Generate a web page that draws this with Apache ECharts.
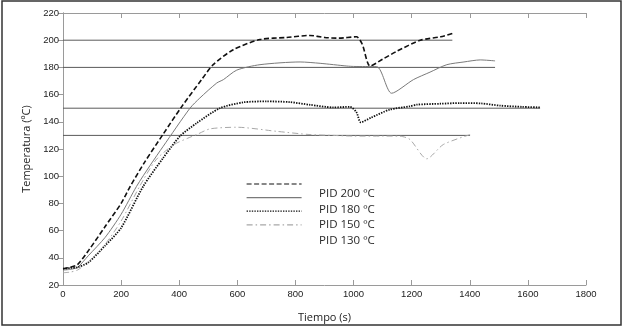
<!DOCTYPE html>
<html>
<head>
<meta charset="utf-8">
<script src="https://cdn.jsdelivr.net/npm/echarts@6/dist/echarts.min.js"></script>
<style>
  html, body { margin: 0; padding: 0; background: #fff; }
  #chart { width: 623px; height: 328px; }
</style>
</head>
<body>
<div id="chart"></div>
<script>
// 数据
var names = ['PID 200 ºC', 'PID 180 ºC', 'PID 150 ºC', 'PID 130 ºC'];

var t200 = [0, 25, 50, 90, 145, 200, 230, 280, 345, 408, 477, 517, 586, 678, 770, 850, 900, 950, 1010, 1030, 1057, 1100, 1150, 1230, 1300, 1340];
var T200 = [32, 33, 35, 46, 63, 80, 92, 110, 131, 151, 171, 182, 193, 200.5, 202, 203.5, 202, 201.5, 202.5, 197, 181, 186, 192, 200, 202.5, 205];

var t180 = [0, 25, 50, 87, 145, 200, 253, 300, 345, 437, 471, 529, 552, 598, 678, 816, 885, 977, 1000, 1080, 1131, 1206, 1263, 1321, 1380, 1436, 1487];
var T180 = [31, 31.5, 33, 41.5, 55, 72, 92.5, 108, 122, 150, 157.5, 168.5, 171, 178, 182, 184, 183, 181, 180.7, 180.5, 161, 171, 176.5, 182, 184, 185.5, 184.8];

var t150 = [0, 25, 50, 87, 145, 200, 276, 345, 403, 460, 540, 620, 700, 780, 850, 930, 988, 1010, 1025, 1060, 1125, 1194, 1217, 1300, 1366, 1440, 1504, 1580, 1642];
var T150 = [32, 32.5, 33, 36.5, 49, 62, 92.5, 113.5, 129.5, 139, 150, 154.3, 155, 154.5, 152.5, 150.6, 151, 147, 139.6, 143, 149, 151.4, 152.6, 153.3, 153.8, 153.5, 151.9, 151, 150.6];

var t130 = [0, 25, 50, 87, 145, 200, 265, 320, 380, 430, 460, 506, 598, 735, 850, 930, 1000, 1100, 1160, 1194, 1252, 1309, 1401];
var T130 = [29, 29.5, 31, 37, 50, 67, 93, 112, 123, 128, 130.6, 134.8, 136, 133, 130.6, 130, 129.5, 129.5, 129.4, 127, 112.8, 123.3, 130.6];

// 设定值参考线
var setpoints = [200, 180, 150, 130];
var setEnds = [1340, 1487, 1642, 1401];

var xTicks = { min: 0, max: 1800, interval: 200 };
var yTicks = { min: 20, max: 220, interval: 20 };

function zip(a, b) {
    var out = [];
    for (var i = 0; i < a.length; i++) {
        out.push([a[i], b[i]]);
    }
    return out;
}

var myChart = echarts.init(document.getElementById('chart'));

var axisGray = '#9a9a9a';
var labelFont = 'Liberation Sans';
var textFont = 'Open Sans';

var styles = [
    { color: '#111', width: 1.6, type: [5, 2.5] },
    { color: '#7a7a7a', width: 1, type: 'solid' },
    { color: '#111', width: 1.8, type: [1.4, 1.2] },
    { color: '#a8a8a8', width: 1, type: [6, 3, 1.5, 3] }
];
var curves = [zip(t200, T200), zip(t180, T180), zip(t150, T150), zip(t130, T130)];

var series = [];
// 参考线
for (var k = 0; k < setpoints.length; k++) {
    series.push({
        type: 'line',
        name: 'sp' + setpoints[k],
        symbol: 'none',
        silent: true,
        lineStyle: { color: '#5a5a5a', width: 1 },
        data: [[0, setpoints[k]], [setEnds[k], setpoints[k]]],
        z: 1
    });
}
for (var i = 0; i < names.length; i++) {
    series.push({
        type: 'line',
        name: names[i],
        symbol: 'none',
        smooth: 0.25,
        lineStyle: styles[i],
        itemStyle: { color: styles[i].color },
        data: curves[i],
        z: 3
    });
}

var option = {
    animation: false,
    backgroundColor: '#fff',
    grid: { left: 63, right: 37, top: 13, bottom: 42 },
    legend: [{
        // 只画线样
        data: names,
        orient: 'vertical',
        left: 241,
        top: 175,
        itemWidth: 55,
        itemHeight: 10,
        itemGap: 5.6,
        lineStyle: { width: 1.2 },
        itemStyle: { color: 'rgba(0,0,0,0)', borderColor: 'rgba(0,0,0,0)', borderWidth: 0 },
        formatter: function () { return ''; },
        textStyle: { fontSize: 10, lineHeight: 10 }
    }, {
        // 只写文字
        data: names,
        orient: 'vertical',
        left: 309,
        top: 181,
        icon: 'none',
        itemWidth: 0,
        itemHeight: 10,
        itemGap: 0,
        textStyle: { fontFamily: textFont, fontSize: 11.5, color: '#2a2a2a', lineHeight: 15.5 }
    }],
    xAxis: [{
        type: 'value',
        min: xTicks.min,
        max: xTicks.max,
        interval: xTicks.interval,
        name: 'Tiempo (s)',
        nameLocation: 'middle',
        nameGap: 27,
        nameTextStyle: { fontFamily: textFont, fontSize: 11, color: '#222' },
        axisLine: { lineStyle: { color: axisGray, width: 1 } },
        axisTick: { inside: true, length: 5, lineStyle: { color: axisGray } },
        axisLabel: {
            fontFamily: labelFont, fontSize: 9.5, color: '#222', margin: 4,
            formatter: function (v) { return String(v); }
        },
        splitLine: { show: false }
    }, {
        type: 'value',
        position: 'top',
        min: xTicks.min,
        max: xTicks.max,
        interval: xTicks.interval,
        axisLine: { lineStyle: { color: axisGray, width: 1 } },
        axisTick: { inside: true, length: 5, lineStyle: { color: axisGray } },
        axisLabel: { show: false },
        splitLine: { show: false }
    }],
    yAxis: [{
        type: 'value',
        min: yTicks.min,
        max: yTicks.max,
        interval: yTicks.interval,
        name: 'Temperatura (ºC)',
        nameLocation: 'middle',
        nameGap: 28,
        nameTextStyle: { fontFamily: textFont, fontSize: 11, color: '#222' },
        axisLine: { show: true, lineStyle: { color: axisGray, width: 1 } },
        axisTick: { show: true, length: 3, lineStyle: { color: axisGray } },
        axisLabel: { fontFamily: labelFont, fontSize: 9.5, color: '#222', margin: 4 },
        splitLine: { show: false }
    }, {
        type: 'value',
        position: 'right',
        min: yTicks.min,
        max: yTicks.max,
        interval: yTicks.interval,
        axisLine: { show: true, lineStyle: { color: axisGray, width: 1 } },
        axisTick: { show: true, inside: true, length: 5, lineStyle: { color: axisGray } },
        axisLabel: { show: false },
        splitLine: { show: false }
    }],
    graphic: [{
        type: 'rect',
        shape: { x: 2, y: 1, width: 619, height: 324 },
        style: { fill: 'none', stroke: '#333', lineWidth: 1.5 },
        silent: true
    }],
    series: series
};

myChart.setOption(option);
</script>
</body>
</html>
